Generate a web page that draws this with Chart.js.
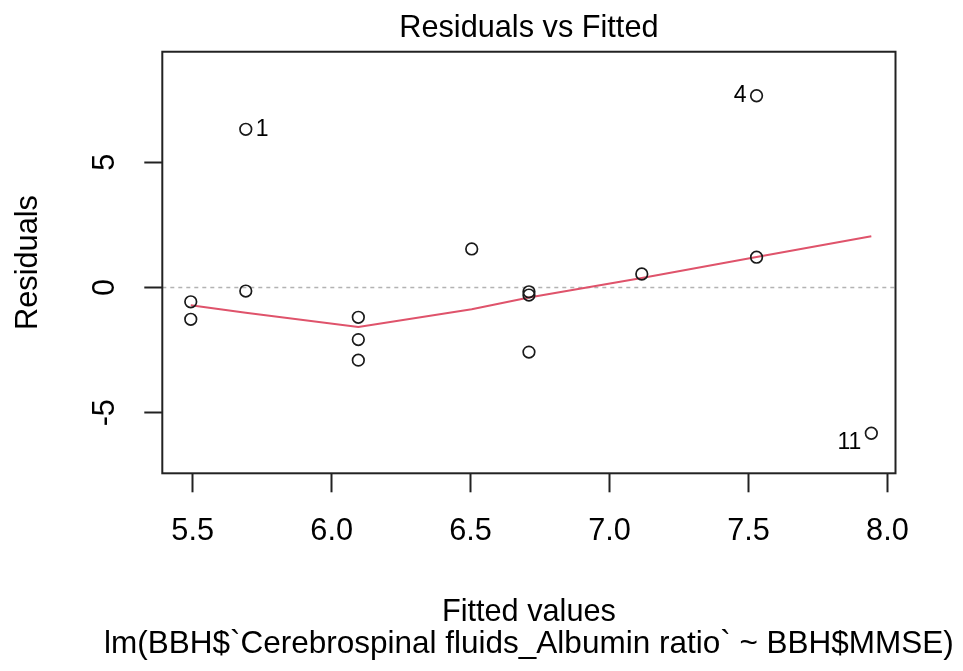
<!DOCTYPE html>
<html>
<head>
<meta charset="utf-8">
<title>Residuals vs Fitted</title>
<script src="https://cdn.jsdelivr.net/npm/chart.js@4.4.0/dist/chart.umd.min.js"></script>
<style>
  html, body { margin: 0; padding: 0; background: #fff; }
  #wrap { width: 963px; height: 671px; }
</style>
</head>
<body>
<div id="wrap"><canvas id="resChart" width="963" height="671"></canvas></div>
<script>
// data
const fittedX = [5.493, 5.493, 5.691, 5.691, 6.096, 6.096, 6.096, 6.504, 6.710, 6.710, 6.710, 7.116, 7.529, 7.529, 7.942];
const residY  = [-0.57, -1.27, 6.32, -0.14, -1.19, -2.08, -2.90, 1.54, -0.17, -0.30, -2.58, 0.54, 7.66, 1.21, -5.82];
const pointIds = ['', '', '1', '', '', '', '', '', '', '', '', '', '4', '', '11'];

// lowess smooth
const smoothX = [5.493, 5.691, 6.096, 6.504, 6.710, 7.116, 7.529, 7.942];
const smoothY = [-0.71, -1.01, -1.58, -0.87, -0.40, 0.38, 1.22, 2.05];

const xTicks = [5.5, 6.0, 6.5, 7.0, 7.5, 8.0];
const yTicks = [-5, 0, 5];

const subCaption = 'lm(BBH$`Cerebrospinal fluids_Albumin ratio` ~ BBH$MMSE)';

const FONT = 'Liberation Sans, Arial, sans-serif';

document.addEventListener('DOMContentLoaded', () => {
    const ctx = document.getElementById('resChart');

    // frame, zero line, rotated y labels, point ids, sub caption
    const rPlot = {
        id: 'rPlot',
        beforeDatasetsDraw(chart) {
            const { ctx, chartArea: a, scales: { y } } = chart;
            const y0 = y.getPixelForValue(0);
            ctx.save();
            ctx.strokeStyle = '#b3b3b3';
            ctx.lineWidth = 1.5;
            ctx.setLineDash([4, 4]);
            ctx.beginPath();
            ctx.moveTo(a.left, y0);
            ctx.lineTo(a.right, y0);
            ctx.stroke();
            ctx.restore();
        },
        afterDatasetsDraw(chart) {
            const { ctx, chartArea: a, scales: { x, y } } = chart;
            ctx.save();
            ctx.strokeStyle = '#222';
            ctx.lineWidth = 2;
            ctx.strokeRect(a.left, a.top, a.right - a.left, a.bottom - a.top);

            // y tick labels, rotated like R (las = 0)
            ctx.fillStyle = '#000';
            ctx.font = '30.7px ' + FONT;
            ctx.textAlign = 'center';
            ctx.textBaseline = 'middle';
            yTicks.forEach(v => {
                ctx.save();
                ctx.translate(106, y.getPixelForValue(v));
                ctx.rotate(-Math.PI / 2);
                ctx.fillText(String(v), 0, 0);
                ctx.restore();
            });

            // caption under the x title, not squeezed to the plot width
            ctx.font = '31.5px ' + FONT;
            ctx.fillText(subCaption, (a.left + a.right) / 2, 644.5);

            // id labels: right of point on the left half, left of it on the right half
            const midX = (Math.min(...fittedX) + Math.max(...fittedX)) / 2;
            ctx.font = '23px ' + FONT;
            pointIds.forEach((lab, i) => {
                if (!lab) return;
                const px = x.getPixelForValue(fittedX[i]);
                const py = y.getPixelForValue(residY[i]) + (residY[i] < 0 ? 9 : 0);
                const right = fittedX[i] < midX;
                ctx.textAlign = right ? 'left' : 'right';
                ctx.fillText(lab, px + (right ? 10 : -10), py);
            });
            ctx.restore();
        }
    };

    new Chart(ctx, {
        type: 'scatter',
        data: {
            datasets: [
                {
                    label: 'Residuals',
                    data: fittedX.map((v, i) => ({ x: v, y: residY[i] })),
                    pointStyle: 'circle',
                    pointRadius: 5.8,
                    borderWidth: 1.7,
                    borderColor: '#1a1a1a',
                    backgroundColor: 'rgba(0,0,0,0)',
                    order: 1
                },
                {
                    type: 'line',
                    label: 'lowess',
                    data: smoothX.map((v, i) => ({ x: v, y: smoothY[i] })),
                    borderColor: '#DF536B',
                    borderWidth: 2,
                    pointRadius: 0,
                    fill: false,
                    tension: 0,
                    order: 2
                }
            ]
        },
        options: {
            responsive: false,
            animation: false,
            devicePixelRatio: 1,
            layout: { padding: { left: 0, right: 67.5, top: 0, bottom: 0 } },
            plugins: {
                legend: { display: false },
                tooltip: { enabled: false },
                title: {
                    display: true,
                    fullSize: false,
                    text: 'Residuals vs Fitted',
                    color: '#000',
                    font: { family: FONT, size: 30.7, weight: 'normal' },
                    padding: { top: 9.9, bottom: 5 }
                }
            },
            scales: {
                x: {
                    type: 'linear',
                    min: 5.3906,
                    max: 8.029,
                    afterBuildTicks: s => { s.ticks = xTicks.map(v => ({ value: v })); },
                    afterFit: s => { s.height = 197.7; s.paddingLeft = 0; s.paddingRight = 0; },
                    border: { display: false },
                    grid: { drawOnChartArea: false, drawTicks: true, tickLength: 19, tickWidth: 2, tickColor: '#222' },
                    ticks: {
                        color: '#000',
                        font: { family: FONT, size: 30.7 },
                        padding: 20.8,
                        maxRotation: 0,
                        autoSkip: false,
                        callback: v => Number(v).toFixed(1)
                    },
                    title: {
                        display: true,
                        text: 'Fitted values',
                        color: '#000',
                        font: { family: FONT, size: 30.7 },
                        padding: { top: 0, bottom: 39.6 }
                    }
                },
                y: {
                    type: 'linear',
                    min: -7.42,
                    max: 9.417,
                    afterBuildTicks: s => { s.ticks = yTicks.map(v => ({ value: v })); },
                    afterFit: s => { s.width = 162.3; s.paddingTop = 0; s.paddingBottom = 0; },
                    border: { display: false },
                    grid: { drawOnChartArea: false, drawTicks: true, tickLength: 18, tickWidth: 2, tickColor: '#222' },
                    ticks: { display: false },
                    title: {
                        display: true,
                        text: 'Residuals',
                        color: '#000',
                        font: { family: FONT, size: 30.7 },
                        padding: { top: 10.3, bottom: 0 }
                    }
                }
            }
        },
        plugins: [rPlot]
    });
});
</script>
</body>
</html>
